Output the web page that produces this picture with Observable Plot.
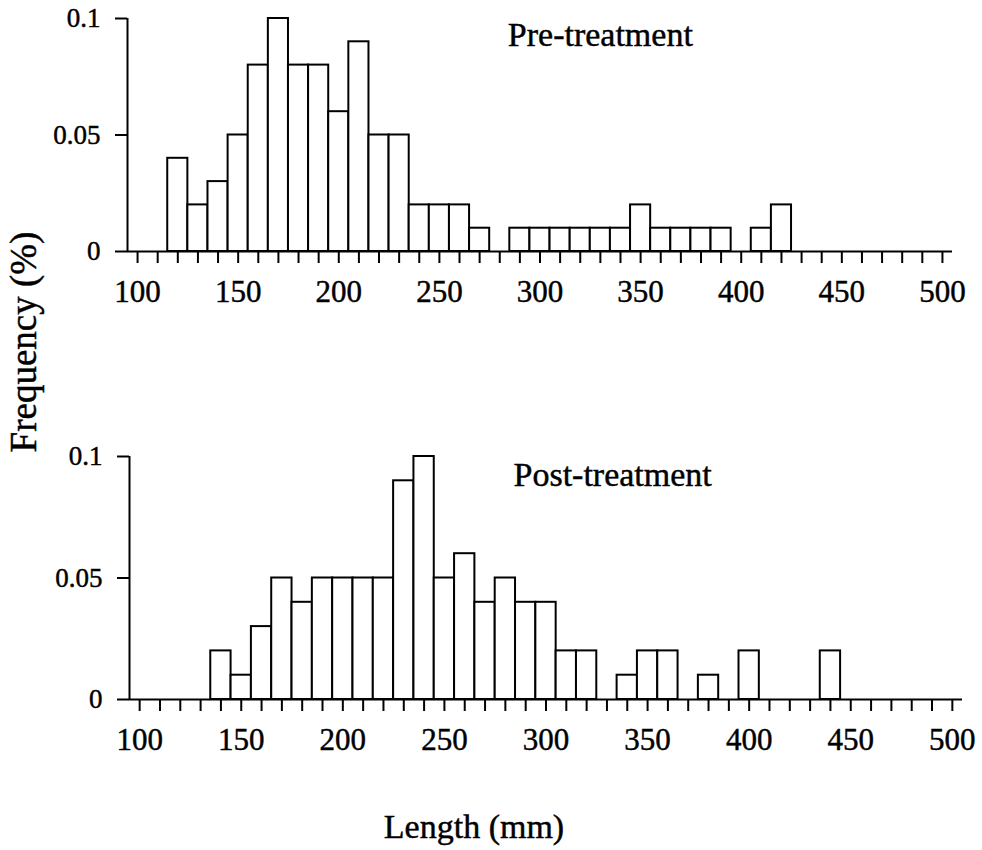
<!DOCTYPE html>
<html>
<head>
<meta charset="utf-8">
<script src="https://cdn.jsdelivr.net/npm/d3@7"></script>
<script src="https://cdn.jsdelivr.net/npm/@observablehq/plot@0.6"></script>
<style>
  html, body { margin: 0; padding: 0; background: #fff; }
  #figure { position: relative; width: 982px; height: 850px; font-family: "Liberation Serif", "Times New Roman", serif; }
  #figure > * { position: absolute; left: 0; }
  /* slightly heavier type, like the printed figure */
  #figure text { stroke: #000; stroke-width: 0.45px; }
</style>
</head>
<body>
<div id="figure"></div>
<script>
// Length classes (mm), each bar is centred on its class value and is 10 mm wide
const binCenters = [100, 110, 120, 130, 140, 150, 160, 170, 180, 190,
                    200, 210, 220, 230, 240, 250, 260, 270, 280, 290,
                    300, 310, 320, 330, 340, 350, 360, 370, 380, 390,
                    400, 410, 420, 430, 440, 450, 460, 470, 480, 490, 500];

// Relative frequency in each length class
const preTreatment = [0, 0, 0.04, 0.02, 0.03, 0.05, 0.08, 0.10, 0.08, 0.08,
                      0.06, 0.09, 0.05, 0.05, 0.02, 0.02, 0.02, 0.01, 0, 0.01,
                      0.01, 0.01, 0.01, 0.01, 0.01, 0.02, 0.01, 0.01, 0.01, 0.01,
                      0, 0.01, 0.02, 0, 0, 0, 0, 0, 0, 0, 0];
const postTreatment = [0, 0, 0, 0, 0.02, 0.01, 0.03, 0.05, 0.04, 0.05,
                       0.05, 0.05, 0.05, 0.09, 0.10, 0.05, 0.06, 0.04, 0.05, 0.04,
                       0.04, 0.02, 0.02, 0, 0.01, 0.02, 0.02, 0, 0.01, 0,
                       0.02, 0, 0, 0, 0.02, 0, 0, 0, 0, 0, 0];

const xTickLabels = [100, 150, 200, 250, 300, 350, 400, 450, 500];
const yTicks = [0, 0.05, 0.1];
const panelTitles = ["Pre-treatment", "Post-treatment"];

const fontFamily = "'Liberation Serif', 'Times New Roman', serif";

function histogram(values, title, frame) {
  const data = binCenters
    .map((c, i) => ({center: c, freq: values[i]}))
    .filter(d => d.freq > 0);
  return Plot.plot({
    width: 982,
    height: frame.height,
    marginTop: frame.top,
    marginBottom: frame.bottom,
    marginLeft: frame.left,
    marginRight: frame.right,
    style: {fontFamily, background: "transparent", color: "#000", overflow: "visible"},
    x: {domain: [95, 505]},
    y: {domain: [0, 0.1]},
    marks: [
      Plot.rectY(data, {
        x1: d => d.center - 5,
        x2: d => d.center + 5,
        y: "freq",
        fill: "white",
        stroke: "black",
        strokeWidth: 2
      }),
      Plot.ruleY([0], {stroke: "black", strokeWidth: 2}),
      Plot.ruleX([95], {y1: 0, y2: 0.1, stroke: "black", strokeWidth: 2}),
      Plot.axisY({
        ticks: yTicks,
        tickSize: 12,
        tickPadding: 15,
        tickFormat: d => String(d),
        fontSize: 27,
        strokeWidth: 2,
        label: null
      }),
      Plot.axisX({
        ticks: binCenters,
        tickSize: 12,
        tickPadding: 16,
        tickFormat: d => xTickLabels.includes(d) ? String(d) : "",
        fontSize: 31,
        strokeWidth: 2,
        label: null
      }),
      Plot.text([title], {
        x: 284,
        y: 0.088,
        text: d => d,
        textAnchor: "start",
        lineAnchor: "bottom",
        fontSize: 34,
        fill: "black"
      })
    ]
  });
}

const figure = document.getElementById("figure");

const upperPanel = histogram(preTreatment, panelTitles[0], {height: 311, top: 18, bottom: 60, left: 127, right: 30});
upperPanel.style.top = "0px";
figure.appendChild(upperPanel);

const lowerPanel = histogram(postTreatment, panelTitles[1], {height: 322, top: 19, bottom: 60, left: 129, right: 20});
lowerPanel.style.top = "437px";
figure.appendChild(lowerPanel);

// Shared axis titles
const labels = d3.create("svg")
  .attr("width", 982)
  .attr("height", 850)
  .style("top", "0px")
  .style("pointer-events", "none")
  .attr("font-family", fontFamily)
  .attr("fill", "black");

labels.append("text")
  .attr("transform", "translate(36,342) rotate(-90)")
  .attr("text-anchor", "middle")
  .attr("font-size", 37)
  .text("Frequency (%)");

labels.append("text")
  .attr("x", 474)
  .attr("y", 838)
  .attr("text-anchor", "middle")
  .attr("font-size", 34)
  .text("Length (mm)");

figure.appendChild(labels.node());
</script>
</body>
</html>
